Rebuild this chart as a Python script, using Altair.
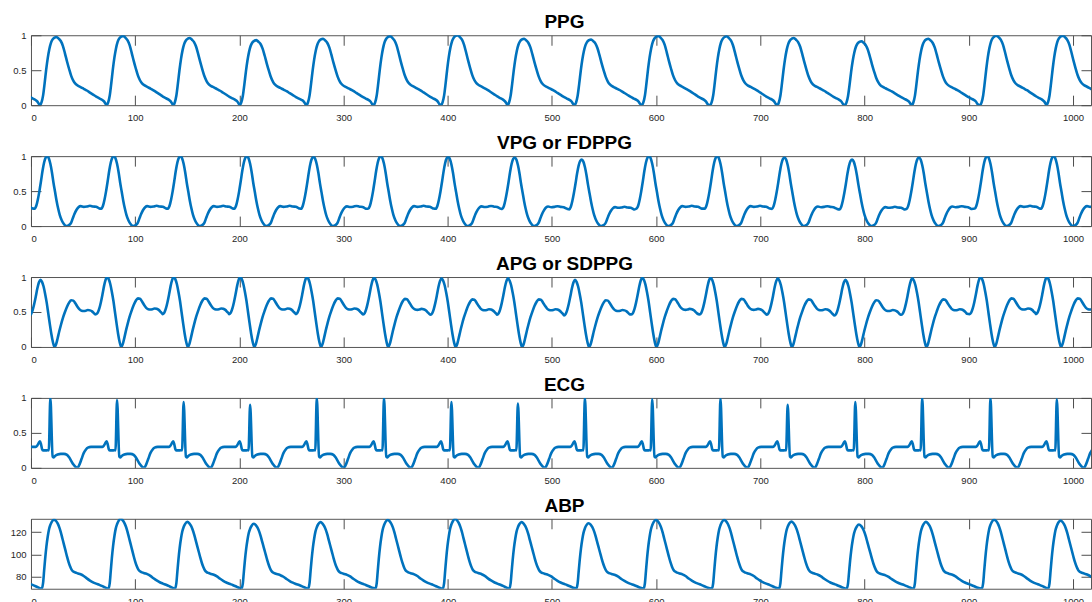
import altair as alt
import pandas as pd

# ---------------- data ----------------
# beat onsets (PPG foot positions, in samples); first one is the partial beat before 0
beat_onsets = [-55.5, 8.6, 72.6, 136.5, 200.3, 264.3, 328.8, 393.5, 457.3,
               521.6, 586.2, 651.7, 716.2, 781.1, 845.3, 910.8, 974.5]

# PPG: one beat shape (offset from foot, normalised value) and per-beat peaks
ppg_t = [0, 1.5, 3, 4.5, 6, 7.5, 9, 10.5, 12, 14, 16, 18, 20, 22, 24, 26, 28, 30,
         32, 34, 36.5, 39, 42, 45, 48, 51, 54, 57, 59.5, 61.5, 63]
ppg_v = [0.0, 0.04, 0.14, 0.32, 0.52, 0.69, 0.82, 0.91, 0.96, 0.99, 1.0, 0.975,
         0.94, 0.87, 0.76, 0.64, 0.53, 0.43, 0.36, 0.315, 0.285, 0.265, 0.24,
         0.215, 0.185, 0.155, 0.125, 0.1, 0.08, 0.055, 0.02]
ppg_peaks = [0.976, 0.976, 0.99, 0.96, 0.93, 0.95, 0.986, 1.0, 0.95, 0.94, 0.99,
             0.985, 0.96, 0.914, 0.95, 0.995, 0.995]

# VPG (first derivative)
vpg_t = [-5, -3.5, -2, -0.5, 1, 2.5, 4, 5.5, 7, 8.5, 10, 11.5, 13, 14.5, 16, 17.5,
         19, 21, 23, 25.5, 28, 30, 31.5, 33, 35, 37, 39, 42, 45, 48, 51, 54, 56, 57.5]
vpg_v = [0.25, 0.29, 0.38, 0.5, 0.64, 0.79, 0.91, 0.98, 1.0, 0.97, 0.89, 0.77,
         0.62, 0.49, 0.36, 0.25, 0.16, 0.08, 0.03, 0.0, 0.015, 0.05, 0.11, 0.17,
         0.23, 0.27, 0.285, 0.275, 0.28, 0.29, 0.28, 0.275, 0.26, 0.25]
vpg_peaks = [1.0, 1.0, 1.0, 1.0, 1.0, 0.99, 1.0, 0.99, 0.98, 0.95, 1.0, 1.0,
             0.98, 0.95, 0.98, 1.0, 1.0]

# APG (second derivative)
apg_t = [-10, -8.5, -7, -5.5, -4, -2.5, -1, 0.5, 2, 3.5, 5, 6.5, 8, 9.5, 11, 12.5,
         14, 15.5, 17, 18.5, 20, 22, 24, 26, 28, 30, 32, 34, 36, 38, 40, 42, 44,
         46, 48, 50, 52, 53]
apg_v = [0.47, 0.49, 0.55, 0.64, 0.75, 0.87, 0.96, 1.0, 0.97, 0.9, 0.79, 0.66,
         0.5, 0.34, 0.19, 0.07, 0.0, 0.04, 0.13, 0.23, 0.32, 0.43, 0.52, 0.6,
         0.66, 0.695, 0.69, 0.65, 0.6, 0.56, 0.54, 0.535, 0.54, 0.55, 0.545,
         0.53, 0.5, 0.485]
apg_peaks = [0.97, 0.96, 1.0, 1.0, 1.0, 1.0, 0.99, 0.98, 0.98, 0.96, 0.99, 0.99,
             0.98, 0.96, 0.98, 1.0, 1.0]

# ECG (R wave about 10 samples after the PPG foot)
ecg_t = [-4, -2.5, -1, 0, 1, 2, 3, 6, 8, 8.5, 10, 12.2, 13, 14.5, 17, 20, 23, 26,
         28, 30, 32, 34, 36, 38, 40, 42, 44, 46, 49, 52, 55, 58]
ecg_v = [0.30, 0.32, 0.36, 0.38, 0.34, 0.27, 0.25, 0.25, 0.255, 0.25, 1.0, 0.16,
         0.15, 0.17, 0.19, 0.2, 0.2, 0.185, 0.15, 0.1, 0.05, 0.015, 0.0, 0.05,
         0.13, 0.21, 0.26, 0.29, 0.3, 0.3, 0.3, 0.3]
ecg_r_peaks = [1.0, 1.0, 0.97, 0.94, 0.9, 1.0, 1.0, 0.94, 0.92, 1.0, 0.98, 0.99,
               0.9, 0.94, 1.0, 1.0, 0.98]

# ABP (mmHg)
abp_t = [1.7, 3, 4, 5, 6.2, 7.5, 8.7, 10, 11.5, 13.5, 15.5, 17, 18.5, 20, 21.5, 23,
         24.5, 26, 27.5, 29, 30.5, 32, 34, 36.5, 39, 42, 45, 48, 51, 54, 57, 60, 62.5]
abp_v = [69.1, 74, 85, 96, 107, 116, 122.4, 126.5, 129.5, 131.3, 130, 127.8,
         124.5, 120, 114.5, 109, 103.5, 98, 93, 89, 86, 84.5, 83.6, 82.8, 82,
         80.5, 78.3, 76.4, 74.8, 73.6, 72.5, 71.3, 70.2]
abp_peaks = [131.0, 131.3, 131.9, 129.2, 127.5, 129.0, 131.0, 131.8, 129.0, 128.0,
             131.0, 131.0, 129.5, 126.8, 129.2, 131.3, 130.4]

x_ticks = [0, 100, 200, 300, 400, 500, 600, 700, 800, 900, 1000]
unit_ticks = [0, 0.5, 1]
abp_ticks = [80, 100, 120]
x_view = [0, 1017.3]   # visible part of the sample axis


def build(t_tpl, v_tpl, peaks, base=0.0, mode="scale"):
    xs, ys = [], []
    vmax = max(v_tpl)
    for i, (o, p) in enumerate(zip(beat_onsets, peaks)):
        limit = beat_onsets[i + 1] + t_tpl[0] if i + 1 < len(beat_onsets) else 1e9
        for t, v in zip(t_tpl, v_tpl):
            x = o + t
            if x >= limit:
                break
            if mode == "scale":
                y = base + (v - base) * (p - base) / (vmax - base)
            else:
                y = p if v == vmax else v
            if -4 <= x <= 1022:
                xs.append(x)
                ys.append(y)
    return pd.DataFrame({"x": xs, "y": ys})


BLUE = "#0072BD"
AX = "#262626"
TICK = "#4d4d4d"
FONT = "Liberation Sans"


def panel(df, title, domain, yticks, yfmt):
    base = alt.Chart(df)
    xs = alt.Scale(domain=x_view, nice=False, zero=False)
    ys = alt.Scale(domain=domain, nice=False, zero=False)
    line = base.mark_line(color=BLUE, strokeWidth=2.6, interpolate="monotone",
                          clip=True).encode(
        x=alt.X("x:Q", scale=xs, title=None,
                axis=alt.Axis(orient="bottom", values=x_ticks, format="d",
                              offset=-10, tickSize=10, domain=False, grid=False,
                              labelPadding=7.6, tickColor=TICK, labelColor=AX,
                              labelFont=FONT, labelFontSize=9.5)),
        y=alt.Y("y:Q", scale=ys, title=None,
                axis=alt.Axis(orient="left", values=yticks, format=yfmt,
                              offset=-10, tickSize=10, domain=False, grid=False,
                              labelPadding=5, minExtent=0, tickColor=TICK,
                              labelColor=AX, labelFont=FONT, labelFontSize=9.5)),
    )
    ghost = base.mark_line(opacity=0, clip=True).encode(
        x=alt.X("x:Q", scale=xs, title=None,
                axis=alt.Axis(orient="top", values=x_ticks, labels=False,
                              offset=-10, tickSize=10, domain=False, grid=False,
                              minExtent=20, tickColor=TICK)),
        y=alt.Y("y:Q", scale=ys, title=None,
                axis=alt.Axis(orient="right", values=yticks, labels=False,
                              offset=-10, tickSize=10, domain=False, grid=False,
                              minExtent=0, tickColor=TICK)),
    )
    return alt.layer(ghost, line).resolve_axis(
        x="independent", y="independent"
    ).properties(width=1061, height=70,
                 title=alt.TitleParams(title, frame="group", dx=3.5))


ppg = build(ppg_t, ppg_v, ppg_peaks)
vpg = build(vpg_t, vpg_v, vpg_peaks)
apg = build(apg_t, apg_v, apg_peaks)
ecg = build(ecg_t, ecg_v, ecg_r_peaks, mode="peak")
abp = build(abp_t, abp_v, abp_peaks, base=69.1)

chart = alt.vconcat(
    panel(ppg, "PPG", [0, 1], unit_ticks, "~g"),
    panel(vpg, "VPG or FDPPG", [0, 1], unit_ticks, "~g"),
    panel(apg, "APG or SDPPG", [0, 1], unit_ticks, "~g"),
    panel(ecg, "ECG", [0, 1], unit_ticks, "~g"),
    panel(abp, "ABP", [69, 132], abp_ticks, "d"),
    spacing=51,
    bounds="flush",
).properties(
    padding={"left": 9, "top": 12, "right": 0, "bottom": 0},
    background="white",
).configure_view(
    stroke="#555555", strokeWidth=1
).configure_title(
    font=FONT, fontSize=19, fontWeight="bold", anchor="middle",
    baseline="alphabetic", offset=-7, color="#000000"
)

chart.save("out.html", embed_options={"renderer": "svg", "actions": False})
